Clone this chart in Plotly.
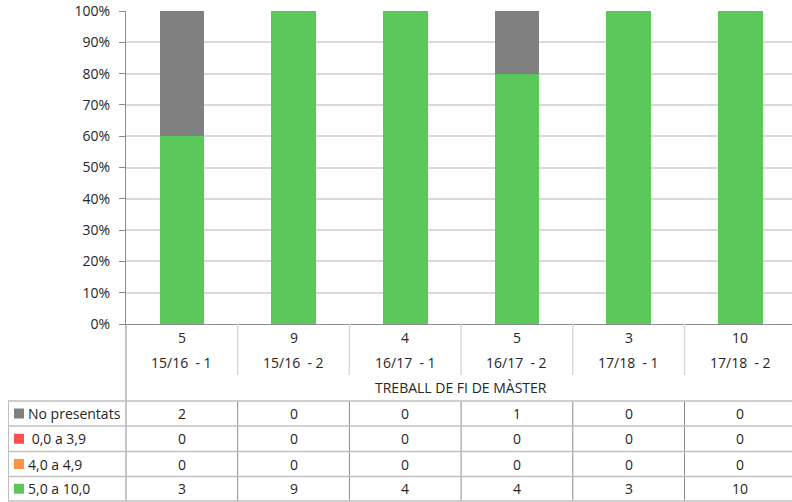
import plotly.graph_objects as go

# --------------------------
# Datos
# --------------------------
categorias = ["15/16  - 1", "15/16  - 2", "16/17  - 1", "16/17  - 2", "17/18  - 1", "17/18  - 2"]
no_presentats = [2, 0, 0, 1, 0, 0]
suspes_baix = [0, 0, 0, 0, 0, 0]      # 0,0 a 3,9
suspes_alt = [0, 0, 0, 0, 0, 0]       # 4,0 a 4,9
aprovats = [3, 9, 4, 4, 3, 10]        # 5,0 a 10,0
titol_eix = "TREBALL DE FI DE MÀSTER"

series = [
    ("5,0 a 10,0", aprovats, "#5BC85B"),
    ("4,0 a 4,9", suspes_alt, "#FF9147"),
    (" 0,0 a 3,9", suspes_baix, "#FF5050"),
    ("No presentats", no_presentats, "#808080"),
]
totals = [sum(v) for v in zip(no_presentats, suspes_baix, suspes_alt, aprovats)]

# --------------------------
# Geometría (píxeles)
# --------------------------
W, H = 792, 502
L, T, B = 126, 11, 178
PW, PH = W - L, H - T - B
CAT_W = 111.7

def py(pix):
    return (H - B - pix) / PH

def px(pix):
    return (pix - L) / PW

FONT = "Open Sans"
TXT = "#262626"
fuente = dict(size=14, color=TXT, family=FONT)

fig = go.Figure()
for nom, vals, col in series:
    fig.add_trace(go.Bar(x=categorias, y=vals, name=nom, marker=dict(color=col, line=dict(width=0)),
                         width=0.4, showlegend=False, hoverinfo="skip"))

shapes = []
ann = []

# Eje izquierdo prolongado hacia la tabla
shapes.append(dict(type="line", xref="paper", yref="paper", x0=0, x1=0, y0=py(324), y1=py(501),
                   line=dict(color="#8c8c8c", width=1)))

# Separadores y etiquetas del eje x
for i in range(len(categorias)):
    shapes.append(dict(type="line", xref="x", yref="paper", x0=i + 0.5, x1=i + 0.5,
                       y0=py(324), y1=py(375), line=dict(color="#d9d9d9", width=1.5)))
    shapes.append(dict(type="line", xref="x", yref="paper", x0=i + 0.5, x1=i + 0.5,
                       y0=py(401), y1=py(501), line=dict(color="#8c8c8c", width=1)))
    ann.append(dict(x=categorias[i], y=py(337), xref="x", yref="paper", text=str(totals[i]),
                    yanchor="middle", showarrow=False, font=fuente))
    ann.append(dict(x=categorias[i], y=py(362.5), xref="x", yref="paper", text=categorias[i],
                    yanchor="middle", showarrow=False, font=fuente))

ann.append(dict(x=2.5, y=py(387.5), xref="x", yref="paper", text=titol_eix,
                yanchor="middle", showarrow=False, font=fuente))

# Tabla
filas = [401, 426, 451.5, 476.5, 501]
for yy in filas:
    shapes.append(dict(type="line", xref="paper", yref="paper", x0=px(8), x1=1.0, y0=py(yy), y1=py(yy),
                       line=dict(color="#bfbfbf", width=1.5)))
shapes.append(dict(type="line", xref="paper", yref="paper", x0=px(8.5), x1=px(8.5), y0=py(401), y1=py(501),
                   line=dict(color="#bfbfbf", width=1)))

for r, (nom, vals, col) in enumerate(reversed(series)):
    yc = (filas[r] + filas[r + 1]) / 2
    shapes.append(dict(type="rect", xref="paper", yref="paper", x0=px(14), x1=px(24),
                       y0=py(yc - 5), y1=py(yc + 5), fillcolor=col, line=dict(width=0)))
    ann.append(dict(x=px(26), y=py(yc), xref="paper", yref="paper", text=nom, xanchor="left",
                    yanchor="middle", showarrow=False, font=fuente))
    for i, v in enumerate(vals):
        ann.append(dict(x=categorias[i], y=py(yc), xref="x", yref="paper", text=str(v),
                        yanchor="middle", showarrow=False, font=fuente))

fig.update_layout(
    width=W, height=H,
    margin=dict(l=L, r=0, t=T, b=B),
    barmode="stack", barnorm="percent",
    plot_bgcolor="white", paper_bgcolor="white",
    font=dict(family=FONT, size=14, color=TXT),
    xaxis=dict(showticklabels=False, ticks="", showgrid=False, showline=True,
               linecolor="#8c8c8c", linewidth=1, range=[-0.5, -0.5 + PW / CAT_W], zeroline=False),
    yaxis=dict(range=[0, 100], dtick=10, ticksuffix="%", showgrid=True, gridcolor="#d9d9d9",
               gridwidth=1.5, showline=True, linecolor="#8c8c8c", linewidth=1, ticks="outside",
               ticklen=6, tickcolor="#8c8c8c", zeroline=False, ticklabelstandoff=6,
               tickfont=fuente),
    shapes=shapes,
    annotations=ann,
)

fig.write_html("out.html", config={"displayModeBar": False},
               post_script="document.body.style.margin='0';")
